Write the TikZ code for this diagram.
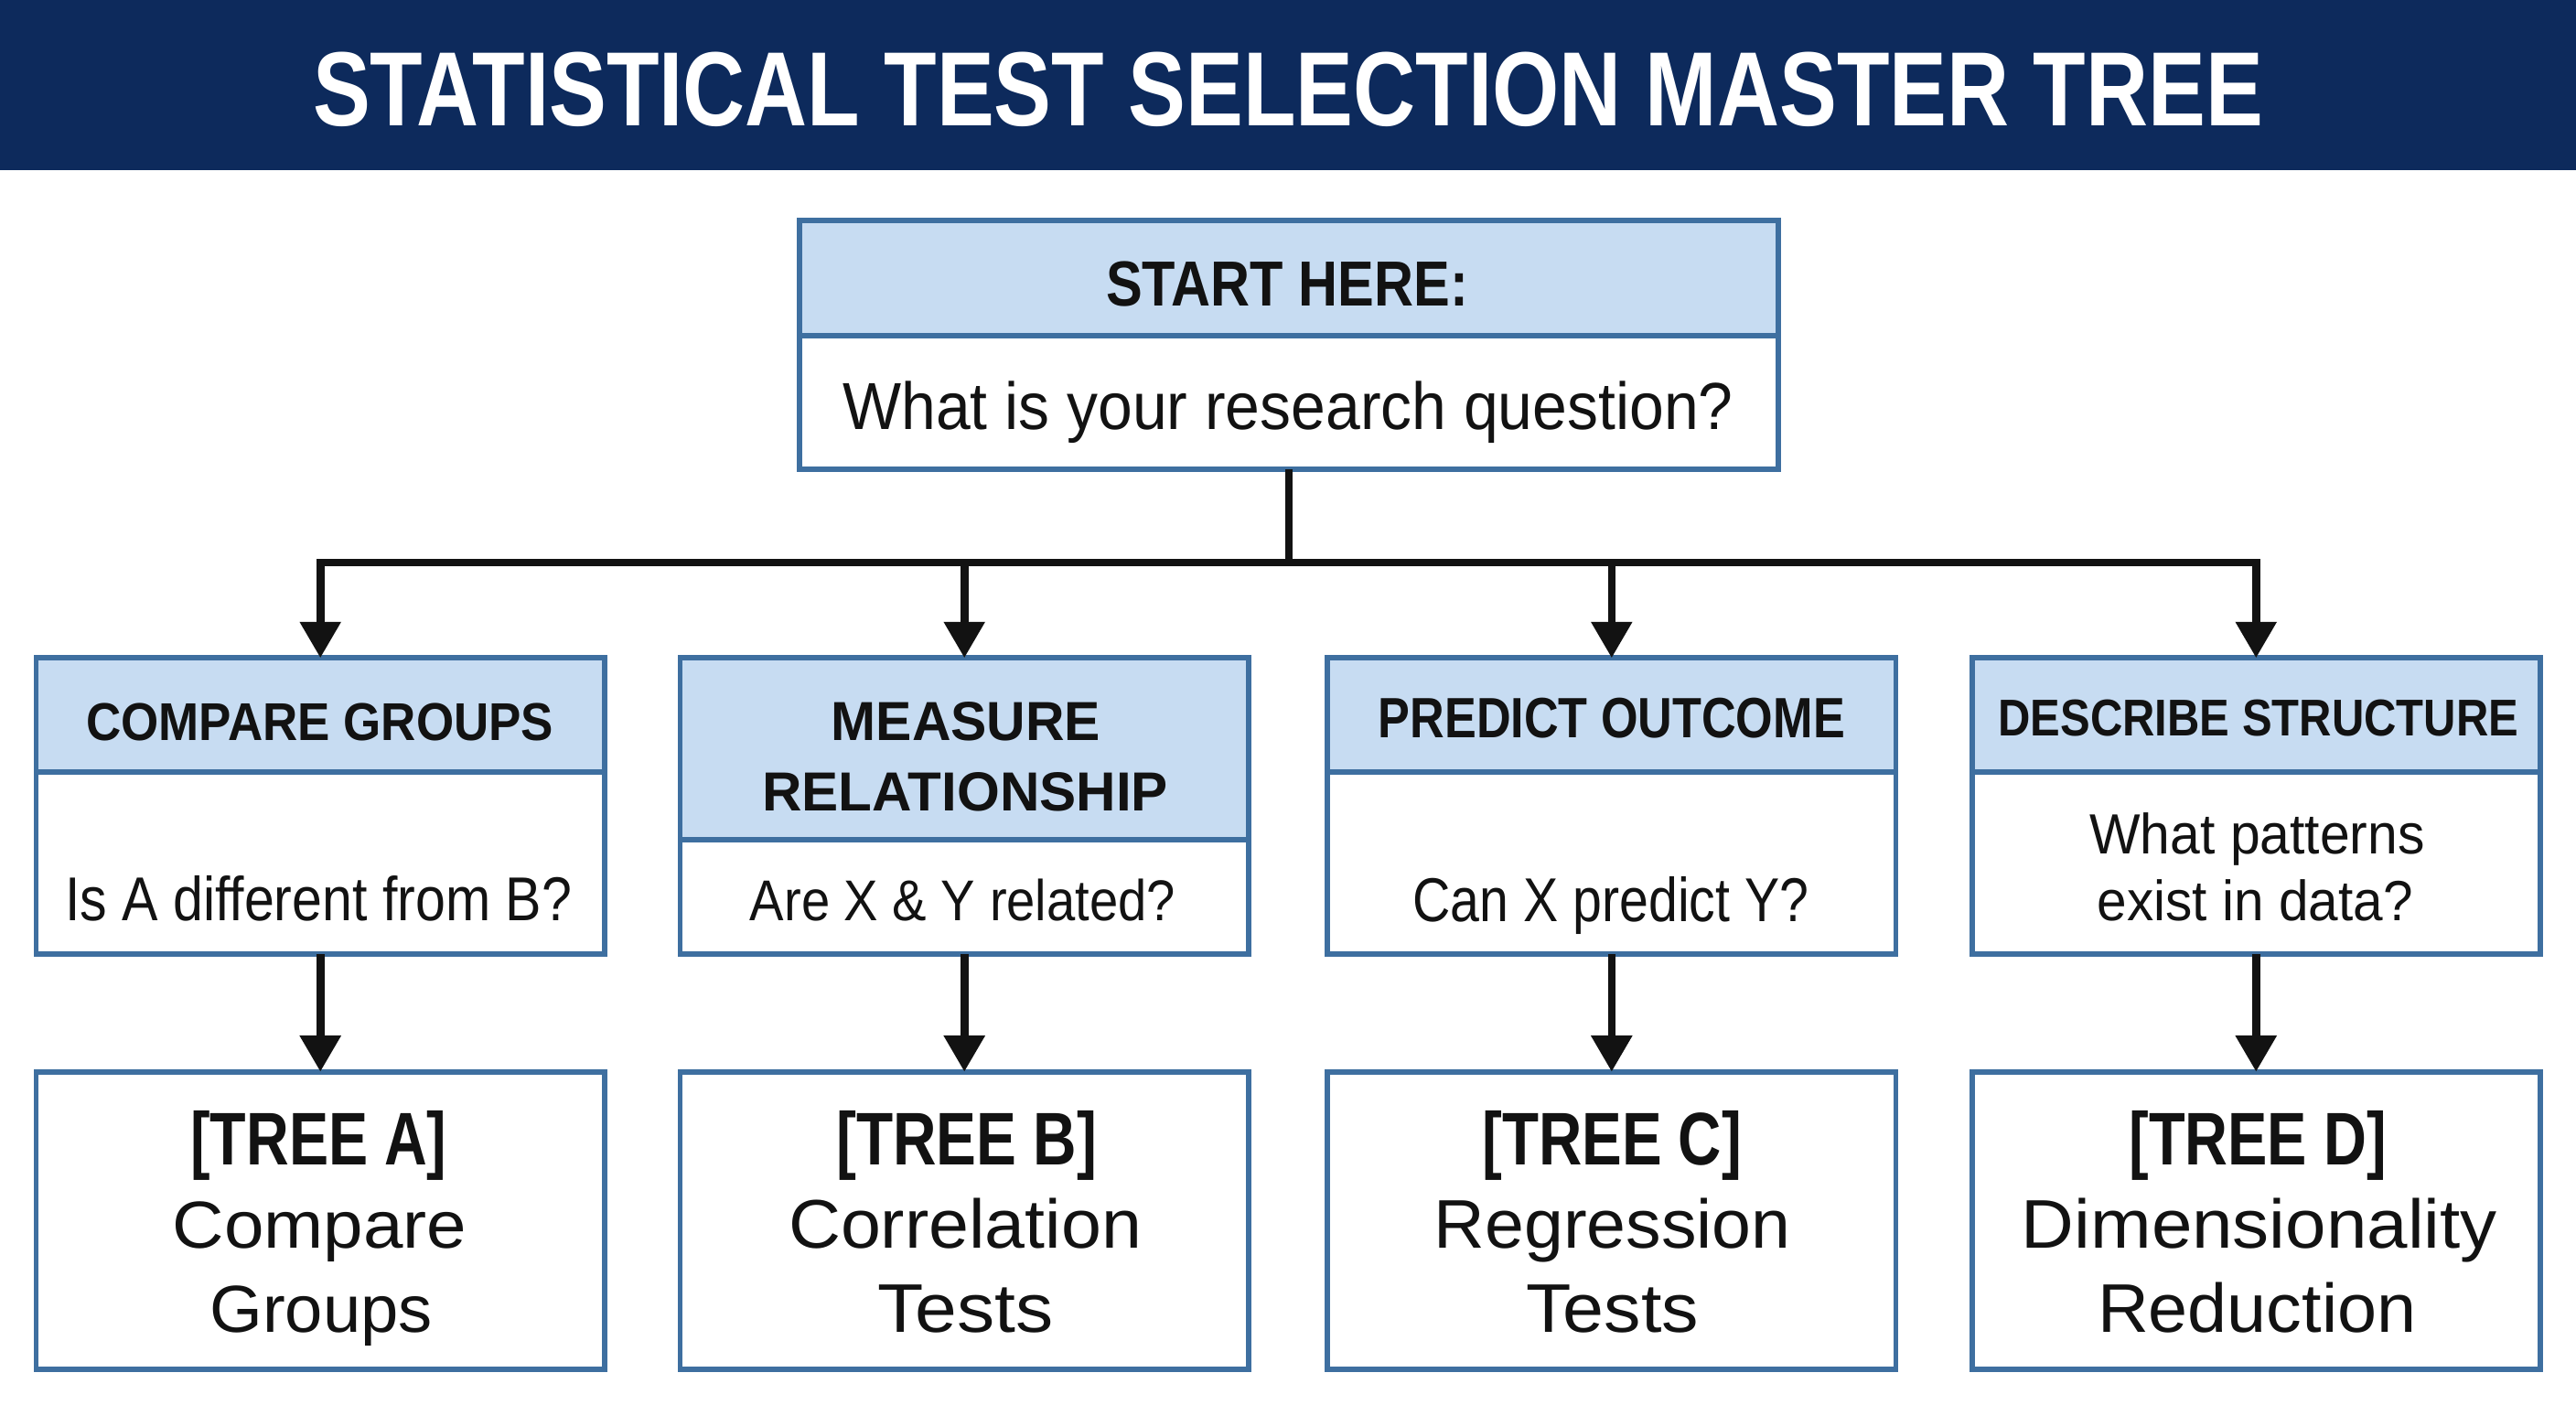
\documentclass[tikz,border=0pt]{standalone}
\usepackage{fontspec}
\setmainfont{Liberation Sans}
\usepackage{graphicx}
\usetikzlibrary{arrows.meta}
\definecolor{navy}{RGB}{13,42,92}
\definecolor{hdrc}{RGB}{199,220,242}
\definecolor{bordc}{RGB}{62,111,160}
\definecolor{ink}{RGB}{18,18,18}
\newsavebox\fitbox
\newlength\fitdim
\newcommand\fitto[3]{\sbox\fitbox{\fontsize{#1pt}{#1pt}\selectfont #3}\setlength\fitdim{\wd\fitbox}\pgfmathsetmacro\fitsx{#2/\fitdim}\scalebox{\fitsx}[1]{\usebox\fitbox}}
\begin{document}
\begin{tikzpicture}[x=1pt,y=-1pt,
  box/.style={draw=bordc, line width=3.3pt, fill=white, inner sep=0pt, outer sep=0pt, minimum width=346pt},
  hdr/.style={draw=bordc, line width=3.3pt, fill=hdrc, inner sep=0pt, outer sep=0pt, minimum width=346pt, anchor=north},
  txt/.style={anchor=base, inner sep=0pt, outer sep=0pt, text=ink},
  conn/.style={draw=ink, line width=4.8pt},
  arr/.style={conn, -{Triangle[length=22pt,width=24pt]}},
]
\useasboundingbox (0,0) rectangle (1568,855.27);
\fill[white] (0,0) rectangle (1568,855.27);
\node[fill=navy, inner sep=0pt, outer sep=0pt, minimum width=1568pt, minimum height=103.8pt, anchor=north west] (band) at (0,0) {};
\node[txt, text=white] (title) at (784,76.7) {\fitto{64.2}{1187}{\bfseries STATISTICAL TEST SELECTION MASTER TREE}};

% start box
\node[box, minimum width=596pt, minimum height=151.7pt] (start) at (784.5,209.85) {};
\node[hdr, minimum width=596pt, minimum height=70.2pt] (starth) at (start.north) {};
\node[txt] (startt) at (783.5,186.5) {\fitto{38.8}{220.5}{\bfseries START HERE:}};
\node[txt] (startq) at (784,261.7) {\fitto{40.5}{542}{What is your research question?}};

% category boxes
\node[box, minimum height=180.5pt] (cg) at (195,490.75) {};
\node[hdr, minimum height=69.5pt] (cgh) at (cg.north) {};
\node[box, minimum height=180.5pt] (mr) at (587,490.75) {};
\node[hdr, minimum height=110.5pt] (mrh) at (mr.north) {};
\node[box, minimum height=180.5pt] (po) at (981,490.75) {};
\node[hdr, minimum height=69.5pt] (poh) at (po.north) {};
\node[box, minimum height=180.5pt] (ds) at (1373.25,490.75) {};
\node[hdr, minimum height=69.5pt] (dsh) at (ds.north) {};

\node[txt] (cgt) at (194.8,451) {\fitto{32.4}{284.5}{\bfseries COMPARE GROUPS}};
\node[txt] (mrt1) at (588,451) {\fitto{33.5}{164}{\bfseries MEASURE}};
\node[txt] (mrt2) at (587.5,493.7) {\fitto{33.5}{247}{\bfseries RELATIONSHIP}};
\node[txt] (pot) at (981,449) {\fitto{34.6}{284}{\bfseries PREDICT OUTCOME}};
\node[txt] (dst) at (1374.7,448.2) {\fitto{31.5}{316.6}{\bfseries DESCRIBE STRUCTURE}};

\node[txt] (cgq) at (193.8,560.5) {\fitto{37.7}{308.5}{Is A different from B?}};
\node[txt] (mrq) at (586,560.5) {\fitto{35}{259}{Are X \& Y related?}};
\node[txt] (poq) at (980.5,561) {\fitto{37.7}{241}{Can X predict Y?}};
\node[txt] (dsq1) at (1374,519.6) {\fitto{34.5}{204}{What patterns}};
\node[txt] (dsq2) at (1372.7,560.5) {\fitto{34.5}{192}{exist in data?}};

% tree boxes
\node[box, minimum height=181pt] (ta) at (195,742.9) {};
\node[box, minimum height=181pt] (tb) at (587,742.9) {};
\node[box, minimum height=181pt] (tc) at (981,742.9) {};
\node[box, minimum height=181pt] (td) at (1373.25,742.9) {};

\node[txt] (ta1) at (194,709) {\fitto{45.4}{156}{\bfseries [TREE A]}};
\node[txt] (ta2) at (194.5,760) {\fitto{40.5}{179}{Compare}};
\node[txt] (ta3) at (195.5,811) {\fitto{40.5}{135.5}{Groups}};
\node[txt] (tb1) at (588.3,709) {\fitto{45.4}{158.6}{\bfseries [TREE B]}};
\node[txt] (tb2) at (587.5,760) {\fitto{41.9}{215}{Correlation}};
\node[txt] (tb3) at (587.5,811) {\fitto{41.9}{107}{Tests}};
\node[txt] (tc1) at (981.2,709) {\fitto{45.4}{158}{\bfseries [TREE C]}};
\node[txt] (tc2) at (981.5,760) {\fitto{41.9}{217}{Regression}};
\node[txt] (tc3) at (981.5,811) {\fitto{41.9}{105}{Tests}};
\node[txt] (td1) at (1374.3,709) {\fitto{45.4}{156.7}{\bfseries [TREE D]}};
\node[txt] (td2) at (1375.3,760) {\fitto{41.9}{289.6}{Dimensionality}};
\node[txt] (td3) at (1373.8,811) {\fitto{41.9}{194}{Reduction}};

% connectors
\coordinate (j) at (784.5,342.5);
\draw[conn] (start.south) -- (j);
\draw[conn, line cap=rect] (cg.north |- j) -- (ds.north |- j);
\foreach \n in {cg,mr,po,ds} \draw[arr] (\n.north |- j) -- (\n.north);
\draw[arr] (cg.south) -- (ta.north);
\draw[arr] (mr.south) -- (tb.north);
\draw[arr] (po.south) -- (tc.north);
\draw[arr] (ds.south) -- (td.north);
\end{tikzpicture}
\end{document}
